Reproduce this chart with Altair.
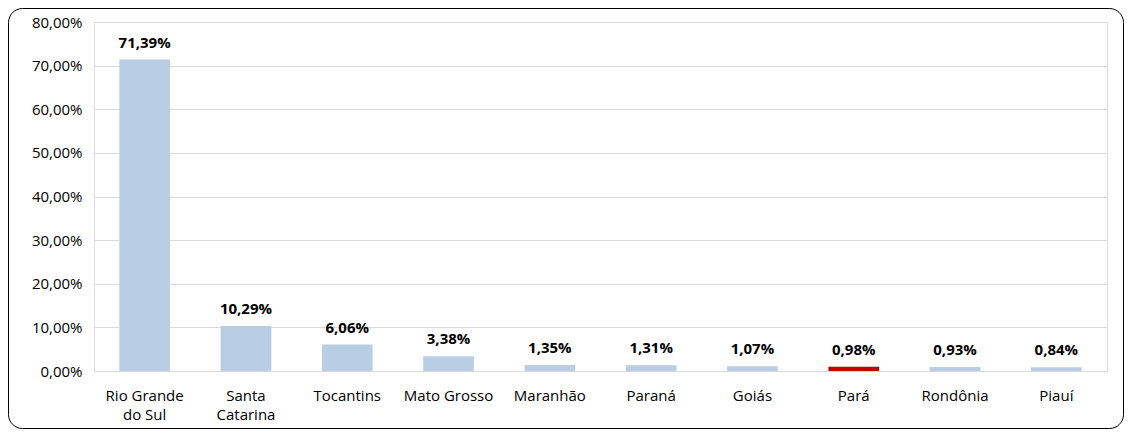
import altair as alt
import pandas as pd

states = ["Rio Grande do Sul", "Santa Catarina", "Tocantins", "Mato Grosso", "Maranhão",
          "Paraná", "Goiás", "Pará", "Rondônia", "Piauí"]
shares = [71.39, 10.29, 6.06, 3.38, 1.35, 1.31, 1.07, 0.98, 0.93, 0.84]
highlight = ["Pará"]

df = pd.DataFrame({"estado": states, "valor": shares})
df["cor"] = ["destaque" if s in highlight else "normal" for s in states]

FONT = "Open Sans"
FS = 15
W, H = 1013, 349

base = alt.Chart(df).encode(
    x=alt.X("estado:N", sort=states, title=None,
            scale=alt.Scale(paddingInner=0.5, paddingOuter=0.25),
            axis=alt.Axis(labelAngle=0, labelFont=FONT, labelFontSize=FS, labelColor="#000000",
                          labelPadding=17, ticks=False, domainColor="#D9D9D9", domainWidth=1,
                          labelLineHeight=19, labelBaseline="top",
                          labelExpr="datum.label == 'Rio Grande do Sul' ? ['Rio Grande', 'do Sul'] : datum.label == 'Santa Catarina' ? ['Santa', 'Catarina'] : datum.label")),
)

bars = base.mark_bar().encode(
    y=alt.Y("valor:Q", title=None,
            scale=alt.Scale(domain=[0, 80], nice=False),
            axis=alt.Axis(values=[0, 10, 20, 30, 40, 50, 60, 70, 80], labelFont=FONT,
                          labelFontSize=FS, labelColor="#000000", labelPadding=12,
                          ticks=False, domain=False, gridColor="#D9D9D9", gridWidth=1,
                          labelExpr="replace(format(datum.value, '.2f'), '.', ',') + '%'")),
    color=alt.Color("cor:N", scale=alt.Scale(domain=["normal", "destaque"],
                                             range=["#B9CDE5", "#C00000"]), legend=None),
)

labels = base.mark_text(font=FONT, fontSize=FS, fontWeight="bold", color="#000000",
                        baseline="bottom", dy=-9).encode(
    y=alt.Y("valor:Q"),
    text=alt.Text("rotulo:N"),
).transform_calculate(rotulo="replace(format(datum.valor, '.2f'), '.', ',') + '%'")

frame = alt.Chart(pd.DataFrame({"a": [0]})).mark_rect(
    fill=None, stroke="#000000", strokeWidth=1, cornerRadius=14).encode(
    x=alt.value(-85.5), x2=alt.value(W + 17 - 0.5),
    y=alt.value(-13.5), y2=alt.value(H + 58 - 0.5),
)

chart = alt.layer(frame, bars, labels).properties(
    width=W, height=H,
    autosize=alt.AutoSizeParams(type="none"),
    padding={"left": 86, "top": 14, "right": 17, "bottom": 58},
).configure_view(stroke=None).configure(background="#FFFFFF")

chart.save("out.html", embed_options={"renderer": "svg", "actions": False})
